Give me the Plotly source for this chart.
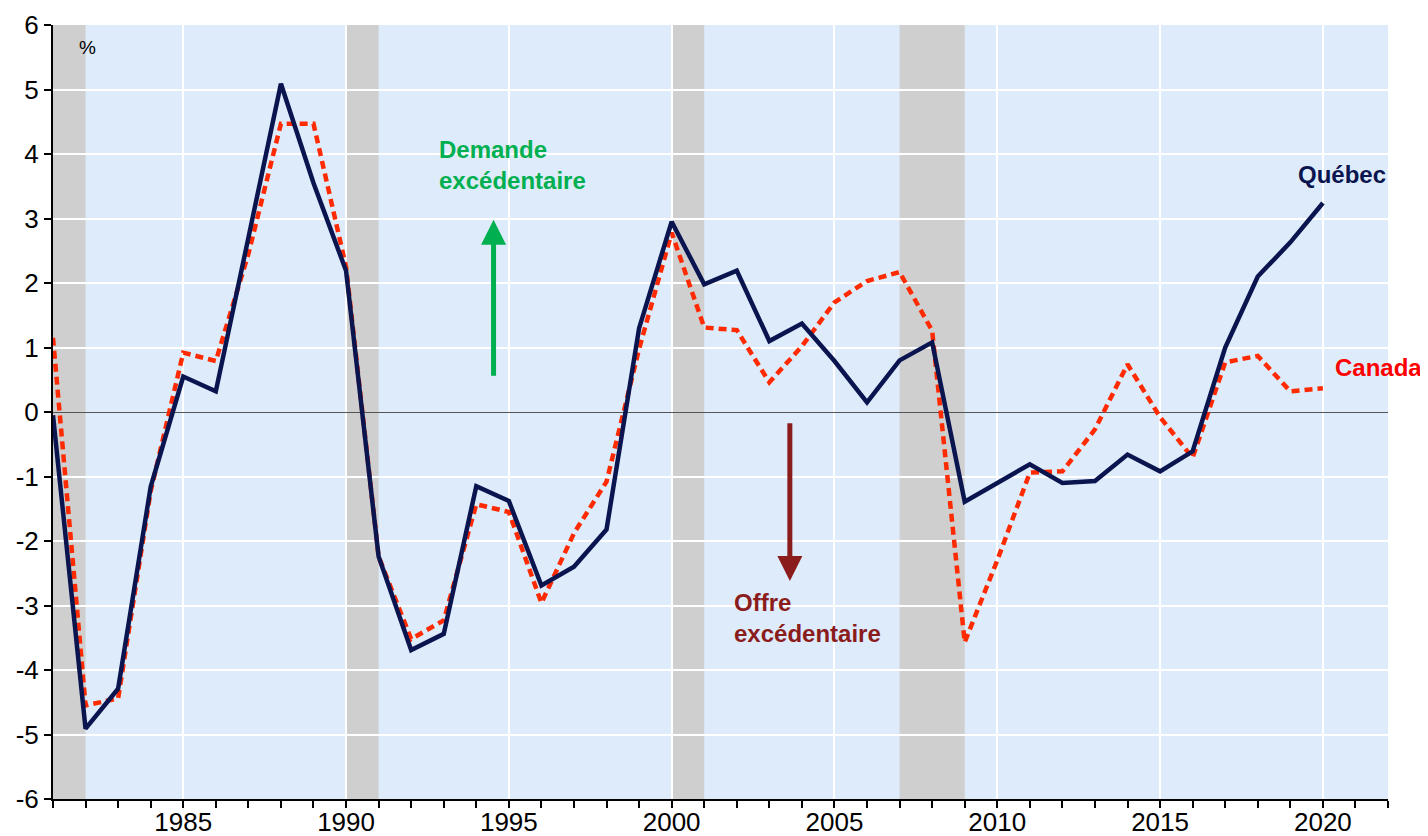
import plotly.graph_objects as go

years = list(range(1981, 2021))
quebec = [-0.05, -4.91, -4.29, -1.16, 0.55, 0.32, 2.70, 5.09, 3.55, 2.19,
          -2.24, -3.69, -3.44, -1.15, -1.38, -2.69, -2.40, -1.82, 1.30, 2.95,
          1.98, 2.19, 1.10, 1.37, 0.79, 0.15, 0.80, 1.08, -1.39, -1.10,
          -0.81, -1.10, -1.07, -0.66, -0.92, -0.61, 1.00, 2.10, 2.63, 3.24]
canada = [1.15, -4.55, -4.44, -1.23, 0.92, 0.79, 2.45, 4.47, 4.47, 2.25,
          -2.24, -3.52, -3.23, -1.43, -1.55, -2.96, -1.88, -1.08, 0.98, 2.78,
          1.31, 1.27, 0.46, 1.02, 1.70, 2.03, 2.17, 1.26, -3.57, -2.30,
          -0.94, -0.92, -0.27, 0.74, -0.08, -0.71, 0.77, 0.87, 0.32, 0.37]

recession_starts = [1981, 1990, 2000, 2007]
recession_ends = [1982, 1991, 2001, 2009]

y_tickvals = [-6, -5, -4, -3, -2, -1, 0, 1, 2, 3, 4, 5, 6]
y_ticktext = ["-6", "-5", "-4", "-3", "-2", "-1", "0", "1", "2", "3", "4", "5", "6"]

NAVY = "#0A1550"
RED = "#FF2A00"
GREEN = "#00B050"
DARKRED = "#8B1C1C"
FONT = "Liberation Sans, Arial, sans-serif"

fig = go.Figure()

for s, e in zip(recession_starts, recession_ends):
    fig.add_shape(type="rect", xref="x", yref="y", x0=s, x1=e, y0=-6, y1=6,
                  fillcolor="#CFCFCF", line=dict(width=0), layer="below")

fig.add_trace(go.Scatter(x=years, y=canada, mode="lines", name="Canada",
                         line=dict(color=RED, width=4.5, dash="8px,5px"),
                         cliponaxis=True))
fig.add_trace(go.Scatter(x=years, y=quebec, mode="lines", name="Québec",
                         line=dict(color=NAVY, width=4.5), cliponaxis=True))

ann = []
ann.append(dict(x=2022, y=3.69, xref="x", yref="y", text="<b>Québec</b>",
                showarrow=False, xanchor="right", yanchor="middle",
                font=dict(family=FONT, size=24, color=NAVY)))
ann.append(dict(x=2020.3, y=0.69, xref="x", yref="y", text="<b>Canada</b>",
                showarrow=False, xanchor="left", yanchor="middle",
                font=dict(family=FONT, size=24, color="#FF0000")))
ann.append(dict(x=1992.78, y=3.83, xref="x", yref="y",
                text="<b>Demande<br>excédentaire</b>",
                showarrow=False, xanchor="left", yanchor="middle", align="left",
                font=dict(family=FONT, size=24, color=GREEN)))
ann.append(dict(x=2001.84, y=-3.2, xref="x", yref="y",
                text="<b>Offre<br>excédentaire</b>",
                showarrow=False, xanchor="left", yanchor="middle", align="left",
                font=dict(family=FONT, size=24, color=DARKRED)))
ann.append(dict(x=1994.53, y=2.98, ax=1994.53, ay=0.54, xref="x", yref="y",
                axref="x", ayref="y", text="", showarrow=True, arrowhead=2,
                arrowsize=1.0, arrowwidth=5, arrowcolor=GREEN))
ann.append(dict(x=2003.63, y=-2.62, ax=2003.63, ay=-0.15, xref="x", yref="y",
                axref="x", ayref="y", text="", showarrow=True, arrowhead=2,
                arrowsize=1.0, arrowwidth=5, arrowcolor=DARKRED))
ann.append(dict(x=1982.05, y=5.65, xref="x", yref="y", text="%",
                showarrow=False, xanchor="center", yanchor="middle",
                font=dict(family=FONT, size=19, color="black")))

# page body adds an 8px offset; size figure so plot area lands at 53..1388 x 25..799
fig.update_layout(
    width=1420, height=828,
    margin=dict(l=45, r=40, t=17, b=37, autoexpand=False),
    paper_bgcolor="white", plot_bgcolor="#DEEBFB",
    showlegend=False,
    annotations=ann,
    font=dict(family=FONT, size=26, color="black"),
)
fig.update_xaxes(range=[1981, 2022], tick0=1985, dtick=5, showgrid=True,
                 gridcolor="white", gridwidth=1.5, ticks="outside", ticklen=7,
                 tickwidth=1.5, tickcolor="black", showline=True,
                 linecolor="black", linewidth=2, zeroline=False,
                 automargin=False, ticklabelstandoff=-8,
                 minor=dict(dtick=1, tick0=1981, ticks="outside", ticklen=7,
                            tickwidth=1.5, tickcolor="black", showgrid=False),
                 tickfont=dict(family=FONT, size=26, color="black"))
fig.update_yaxes(range=[-6, 6], tickmode="array", tickvals=y_tickvals,
                 ticktext=y_ticktext, showgrid=True, gridcolor="white",
                 gridwidth=1.5, ticks="outside", ticklen=7, tickwidth=1.5,
                 tickcolor="black", showline=True, linecolor="black",
                 linewidth=2, zeroline=True, zerolinecolor="#555555",
                 zerolinewidth=1.2, automargin=False,
                 tickfont=dict(family=FONT, size=26, color="black"))

fig.write_html("out.html")
